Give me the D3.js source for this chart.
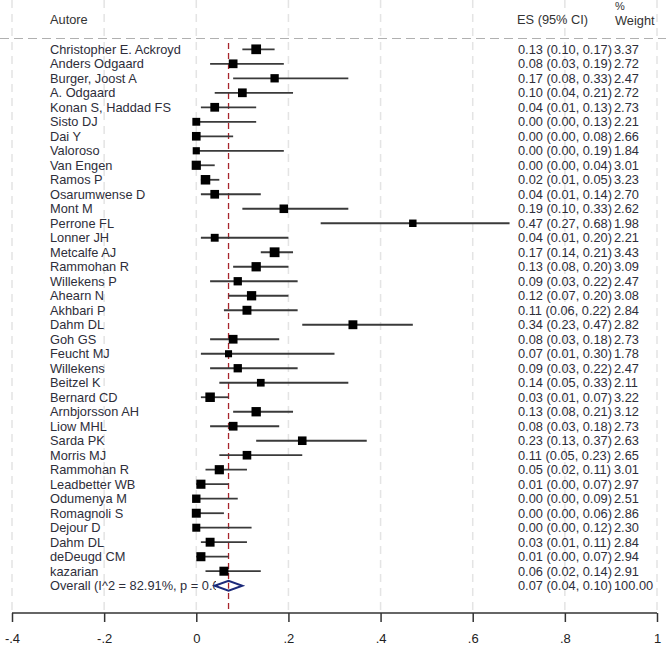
<!DOCTYPE html>
<html>
<head>
<meta charset="utf-8">
<script src="https://cdn.jsdelivr.net/npm/d3@7"></script>
<style>
  body { margin: 0; background: #fff; }
  svg { display: block; font-family: "Liberation Sans", Arial, sans-serif; }
</style>
</head>
<body>
<div id="chart"></div>
<script>
// ======= Forest plot data =======
var studies = ["Christopher E. Ackroyd", "Anders Odgaard", "Burger, Joost A", "A. Odgaard",
  "Konan S, Haddad FS", "Sisto DJ", "Dai Y", "Valoroso", "Van Engen", "Ramos P",
  "Osarumwense D", "Mont M", "Perrone FL", "Lonner JH", "Metcalfe AJ", "Rammohan R",
  "Willekens P", "Ahearn N", "Akhbari P", "Dahm DL", "Goh GS", "Feucht MJ", "Willekens",
  "Beitzel K", "Bernard CD", "Arnbjorsson AH", "Liow MHL", "Sarda PK", "Morris MJ",
  "Rammohan R", "Leadbetter WB", "Odumenya M", "Romagnoli S", "Dejour D", "Dahm DL",
  "deDeugd CM", "kazarian"];
var es    = [0.13, 0.08, 0.17, 0.10, 0.04, 0.00, 0.00, 0.00, 0.00, 0.02, 0.04, 0.19, 0.47,
  0.04, 0.17, 0.13, 0.09, 0.12, 0.11, 0.34, 0.08, 0.07, 0.09, 0.14, 0.03, 0.13, 0.08,
  0.23, 0.11, 0.05, 0.01, 0.00, 0.00, 0.00, 0.03, 0.01, 0.06];
var lower = [0.10, 0.03, 0.08, 0.04, 0.01, 0.00, 0.00, 0.00, 0.00, 0.01, 0.01, 0.10, 0.27,
  0.01, 0.14, 0.08, 0.03, 0.07, 0.06, 0.23, 0.03, 0.01, 0.03, 0.05, 0.01, 0.08, 0.03,
  0.13, 0.05, 0.02, 0.00, 0.00, 0.00, 0.00, 0.01, 0.00, 0.02];
var upper = [0.17, 0.19, 0.33, 0.21, 0.13, 0.13, 0.08, 0.19, 0.04, 0.05, 0.14, 0.33, 0.68,
  0.20, 0.21, 0.20, 0.22, 0.20, 0.22, 0.47, 0.18, 0.30, 0.22, 0.33, 0.07, 0.21, 0.18,
  0.37, 0.23, 0.11, 0.07, 0.09, 0.06, 0.12, 0.11, 0.07, 0.14];
var weight = [3.37, 2.72, 2.47, 2.72, 2.73, 2.21, 2.66, 1.84, 3.01, 3.23, 2.70, 2.62, 1.98,
  2.21, 3.43, 3.09, 2.47, 3.08, 2.84, 2.82, 2.73, 1.78, 2.47, 2.11, 3.22, 3.12, 2.73,
  2.63, 2.65, 3.01, 2.97, 2.51, 2.86, 2.30, 2.84, 2.94, 2.91];
var overallLabel = "Overall  (I^2 = 82.91%, p = 0.000)";
var overall = {es: 0.07, lower: 0.04, upper: 0.10, weight: 100.00};
var xTicks = [-0.4, -0.2, 0, 0.2, 0.4, 0.6, 0.8, 1];
var xTickLabels = ["-.4", "-.2", "0", ".2", ".4", ".6", ".8", "1"];

var W = 666, H = 655;
var axisY = 613;
var fontSize = "12.8px";

var svg = d3.select("#chart").append("svg")
    .attr("width", W)
    .attr("height", H);

// Scales
var x = d3.scaleLinear().domain([-0.4, 1]).range([12, 657]);
var rows = d3.range(studies.length + 1);
var y = d3.scalePoint().domain(rows).range([49.3, 585.7]);

var f2 = d3.format(".2f");

// Vertical grid lines
svg.append("g").selectAll("line")
    .data(xTicks)
    .enter().append("line")
    .attr("x1", function(d) { return x(d); })
    .attr("x2", function(d) { return x(d); })
    .attr("y1", 0)
    .attr("y2", axisY)
    .attr("stroke", "#e4e4e4")
    .attr("stroke-width", 1.5)
    .attr("stroke-dasharray", "8,6");

// Header dashed line
svg.append("line")
    .attr("x1", 0).attr("x2", W)
    .attr("y1", 38.5).attr("y2", 38.5)
    .attr("stroke", "#b0b0b0")
    .attr("stroke-width", 1.2)
    .attr("stroke-dasharray", "9,5");

// Header text
var header = svg.append("g")
    .attr("font-size", fontSize)
    .attr("fill", "#333");
header.append("text").attr("x", 50).attr("y", 24).text("Autore");
header.append("text").attr("x", 517).attr("y", 24).text("ES (95% CI)");
header.append("text").attr("x", 615).attr("y", 10).attr("font-size", "11px").text("%");
header.append("text").attr("x", 615).attr("y", 25).text("Weight");

// Overall effect line (red dashed)
svg.append("line")
    .attr("x1", x(overall.es)).attr("x2", x(overall.es))
    .attr("y1", 43).attr("y2", axisY)
    .attr("stroke", "#a8252b")
    .attr("stroke-width", 1.3)
    .attr("stroke-dasharray", "6,4");

// CI lines
var idx = d3.range(studies.length);
svg.append("g").selectAll("line")
    .data(idx)
    .enter().append("line")
    .attr("x1", function(i) { return x(lower[i]); })
    .attr("x2", function(i) { return x(upper[i]); })
    .attr("y1", function(i) { return y(i); })
    .attr("y2", function(i) { return y(i); })
    .attr("stroke", "#3a3a3a")
    .attr("stroke-width", 1.8);

// Boxes, area by weight
var boxSize = d3.scaleSqrt().domain([0, 3.43]).range([0, 9.8]);
svg.append("g").selectAll("rect")
    .data(idx)
    .enter().append("rect")
    .attr("x", function(i) { return x(es[i]) - boxSize(weight[i]) / 2; })
    .attr("y", function(i) { return y(i) - boxSize(weight[i]) / 2; })
    .attr("width", function(i) { return boxSize(weight[i]); })
    .attr("height", function(i) { return boxSize(weight[i]); })
    .attr("fill", "#000");

// Study labels
var labels = svg.append("g")
    .attr("font-size", fontSize)
    .attr("fill", "#2e2e3a");
labels.selectAll("text")
    .data(idx)
    .enter().append("text")
    .attr("x", 50)
    .attr("y", function(i) { return y(i) + 4.6; })
    .text(function(i) { return studies[i]; });

// Overall label, clipped where the diamond sits
svg.append("clipPath").attr("id", "ovClip")
  .append("rect").attr("x", 0).attr("y", 560).attr("width", 216).attr("height", 40);
labels.append("text")
    .attr("x", 50)
    .attr("y", y(studies.length) + 4.6)
    .attr("clip-path", "url(#ovClip)")
    .text(overallLabel);

// ES and weight columns
var right = svg.append("g")
    .attr("font-size", fontSize)
    .attr("fill", "#2e2e3a");
right.selectAll("text.es")
    .data(idx)
    .enter().append("text")
    .attr("class", "es")
    .attr("x", 518)
    .attr("y", function(i) { return y(i) + 4.6; })
    .text(function(i) { return f2(es[i]) + " (" + f2(lower[i]) + ", " + f2(upper[i]) + ")"; });
right.selectAll("text.wt")
    .data(idx)
    .enter().append("text")
    .attr("class", "wt")
    .attr("x", 614)
    .attr("y", function(i) { return y(i) + 4.6; })
    .text(function(i) { return f2(weight[i]); });
right.append("text")
    .attr("x", 518)
    .attr("y", y(studies.length) + 4.6)
    .text(f2(overall.es) + " (" + f2(overall.lower) + ", " + f2(overall.upper) + ")");
right.append("text")
    .attr("x", 614)
    .attr("y", y(studies.length) + 4.6)
    .text(f2(overall.weight));

// Overall diamond
var oy = y(studies.length);
var dh = 5;
svg.append("path")
    .attr("d", "M" + x(overall.lower) + "," + oy +
               "L" + x(overall.es) + "," + (oy - dh) +
               "L" + x(overall.upper) + "," + oy +
               "L" + x(overall.es) + "," + (oy + dh) + "Z")
    .attr("fill", "#fff")
    .attr("stroke", "#1c2a7a")
    .attr("stroke-width", 2);
svg.append("line")
    .attr("x1", x(overall.es)).attr("x2", x(overall.es))
    .attr("y1", oy - 3).attr("y2", oy + 3)
    .attr("stroke", "#a8252b")
    .attr("stroke-width", 1.3);

// X axis
var axis = svg.append("g")
    .attr("transform", "translate(0," + axisY + ")")
    .call(d3.axisBottom(x)
        .tickValues(xTicks)
        .tickFormat(function(d, i) { return xTickLabels[i]; })
        .tickSize(9)
        .tickPadding(12));
axis.select(".domain")
    .attr("stroke", "#333")
    .attr("stroke-width", 1.5)
    .attr("d", "M" + x(-0.4) + ",0H" + x(1));
axis.selectAll(".tick line").attr("stroke", "#333").attr("stroke-width", 1.5);
axis.selectAll(".tick text")
    .attr("font-size", "13px")
    .attr("font-family", "Liberation Sans, Arial, sans-serif")
    .attr("fill", "#222");
</script>
</body>
</html>
